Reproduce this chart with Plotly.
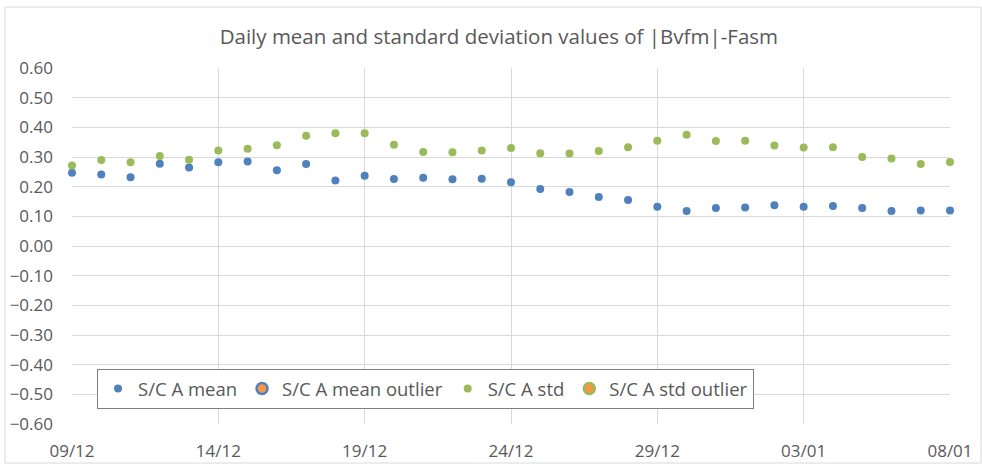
import plotly.graph_objects as go
import pandas as pd

# ---- data ----
days = pd.date_range("2019-12-09", "2020-01-08", freq="D").strftime("%Y-%m-%d").tolist()

sc_a_mean = [0.247, 0.241, 0.232, 0.277, 0.265, 0.282, 0.285, 0.255, 0.276, 0.221,
             0.237, 0.226, 0.230, 0.225, 0.227, 0.215, 0.192, 0.182, 0.165, 0.155,
             0.132, 0.118, 0.128, 0.130, 0.137, 0.132, 0.135, 0.128, 0.118, 0.120,
             0.120]
sc_a_std = [0.271, 0.290, 0.282, 0.303, 0.291, 0.322, 0.328, 0.340, 0.372, 0.380,
            0.380, 0.341, 0.317, 0.316, 0.322, 0.330, 0.313, 0.312, 0.320, 0.333,
            0.355, 0.375, 0.354, 0.355, 0.339, 0.332, 0.333, 0.300, 0.295, 0.276,
            0.283]
# outlier series have no values (legend entries only)
mean_outlier_x, mean_outlier_y = [None], [None]
std_outlier_x, std_outlier_y = [None], [None]

x_tick_vals = ["2019-12-09", "2019-12-14", "2019-12-19", "2019-12-24",
               "2019-12-29", "2020-01-03", "2020-01-08"]
x_tick_text = ["09/12", "14/12", "19/12", "24/12", "29/12", "03/01", "08/01"]

title = "Daily mean and standard deviation values of |Bvfm|-Fasm"

# ---- style ----
BLUE = "#4F81BD"
GREEN = "#9BBB59"
ORANGE = "#F79646"
TXT = "#595959"
GRID = "#D9D9D9"
FONT = "Open Sans"

fig = go.Figure()
fig.add_trace(go.Scatter(x=days, y=sc_a_mean, mode="markers", name="S/C A mean",
                         marker=dict(color=BLUE, size=8), cliponaxis=False))
fig.add_trace(go.Scatter(x=mean_outlier_x, y=mean_outlier_y, mode="markers",
                         name="S/C A mean outlier", showlegend=True,
                         marker=dict(color=ORANGE, size=11, line=dict(color=BLUE, width=2.5))))
fig.add_trace(go.Scatter(x=days, y=sc_a_std, mode="markers", name="S/C A std",
                         marker=dict(color=GREEN, size=8), cliponaxis=False))
fig.add_trace(go.Scatter(x=std_outlier_x, y=std_outlier_y, mode="markers",
                         name="S/C A std outlier", showlegend=True,
                         marker=dict(color=ORANGE, size=11, line=dict(color=GREEN, width=2.5))))

fig.update_layout(
    width=982, height=465,
    margin=dict(l=72, r=32, t=68, b=41, autoexpand=False),
    paper_bgcolor="white", plot_bgcolor="white",
    font=dict(family=FONT, color=TXT, size=17),
    title=dict(text=title, x=0.508, xanchor="center", y=0.92, yanchor="middle",
               font=dict(size=20.5, color=TXT, family=FONT)),
    showlegend=True,
    legend=dict(orientation="h", x=0.0285, y=0.1545, xanchor="left", yanchor="top",
                bgcolor="white", bordercolor="#7F7F7F", borderwidth=1,
                font=dict(size=18.5, color=TXT, family=FONT),
                itemsizing="trace"),
    xaxis=dict(type="date", range=["2019-12-09", "2020-01-08"],
               tickvals=x_tick_vals, ticktext=x_tick_text,
               showgrid=True, gridcolor=GRID, gridwidth=1, automargin=False,
               showline=False, zeroline=False, ticks="",
               ticklabelstandoff=15, tickfont=dict(size=17, color=TXT)),
    yaxis=dict(range=[-0.6, 0.6], dtick=0.1, tick0=0, tickformat=".2f",
               showgrid=True, gridcolor=GRID, gridwidth=1, automargin=False,
               showline=False, zeroline=False, ticks="",
               ticklabelstandoff=18, tickfont=dict(size=17, color=TXT)),
    shapes=[dict(type="rect", xref="paper", yref="paper",
                 x0=-0.0763, x1=1.0353, y0=-0.1096, y1=1.1713,
                 line=dict(color=GRID, width=1), fillcolor="rgba(0,0,0,0)",
                 layer="below")],
)

fig.write_html("out.html", config={"displayModeBar": False},
               post_script="document.body.style.margin='0';document.body.style.overflow='hidden';")
